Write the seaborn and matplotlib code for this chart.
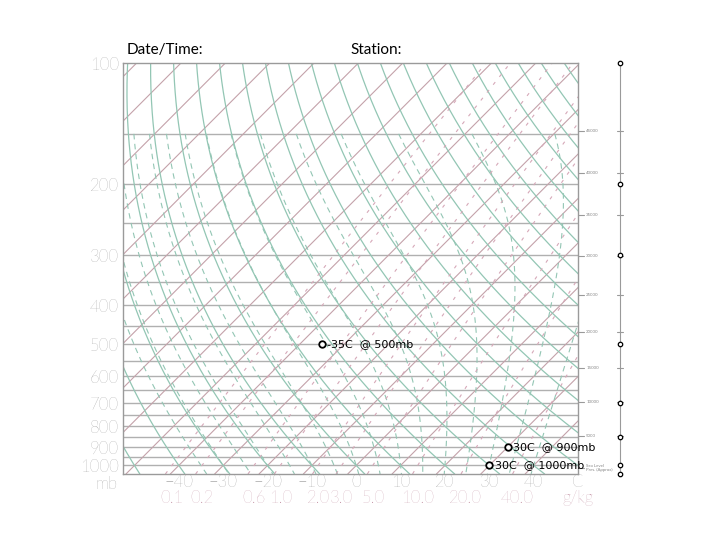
import numpy as np
import pandas as pd
import seaborn as sns
import matplotlib.pyplot as plt
import matplotlib.transforms as mtransforms

# chart values
isotherms = list(range(-140, 50, 10))          # deg C
dry_adiabats = list(range(-50, 180, 10))       # potential temp, deg C at 1000 mb
moist_adiabats = list(range(-35, 45, 5))       # wet-bulb potential temp, deg C
mixing_ratios = [0.1, 0.2, 0.6, 1.0, 2.0, 3.0, 5.0, 10.0, 20.0, 40.0]   # g/kg
mixing_labels = ["0.1", "0.2", "0.6", "1.0", "2.0", "3.0", "5.0", "10.0", "20.0", "40.0"]
isobars = list(range(150, 1050, 50))
p_ticks = [100, 200, 300, 400, 500, 600, 700, 800, 900, 1000]
t_ticks = [-40, -30, -20, -10, 0, 10, 20, 30, 40, 50]
t_labels = ["\u221240", "\u221230", "\u221220", "\u221210", "0", "10", "20", "30", "40", "C"]
alt_ft = [45000, 40000, 35000, 30000, 25000, 20000, 15000, 10000, 5000, 0]
alt_labels = ["45000", "40000", "35000", "30000", "25000", "20000", "15000",
              "10000", "5000", "Sea Level\nPres. (Approx)"]
staff_levels = [100, 200, 300, 500, 700, 850, 1000, 1050]
point_t = [-35, 30, 30]
point_p = [500, 900, 1000]
point_text = ["-35C  @ 500mb", "30C  @ 900mb", "30C  @ 1000mb"]

SKEW = 39.3
P_BOT, P_TOP = 1050, 100


def skew_x(t, p):
    return np.asarray(t) + SKEW * np.log(1000.0 / np.asarray(p))


def es(tc):
    return 6.112 * np.exp(17.67 * tc / (tc + 243.5))


def dewpoint(e):
    a = np.log(e / 6.112)
    return 243.5 * a / (17.67 - a)


def moist_dtdp(p, tk):
    e = es(tk - 273.15)
    rs = 0.622 * e / (p - e)
    num = 287.04 * tk + 2.501e6 * rs
    den = 1005.7 + 2.501e6 ** 2 * rs * 0.622 / (287.04 * tk * tk)
    return num / den / p


def moist_line(tw):
    out = {}
    for stop, step in [(150, -5.0), (1050, 5.0)]:
        p, tk = 1000.0, tw + 273.15
        out[p] = tk
        while (p > stop) if step < 0 else (p < stop):
            k1 = moist_dtdp(p, tk)
            k2 = moist_dtdp(p + step / 2, tk + step / 2 * k1)
            k3 = moist_dtdp(p + step / 2, tk + step / 2 * k2)
            k4 = moist_dtdp(p + step, tk + step * k3)
            tk = tk + step / 6 * (k1 + 2 * k2 + 2 * k3 + k4)
            p += step
            out[p] = tk
    ps = np.array(sorted(out))
    return ps, np.array([out[v] for v in ps]) - 273.15


def ft_to_p(ft):
    z = ft * 0.3048 / 1000.0
    if z <= 11:
        return 1013.25 * (1 - 6.5 * z / 288.15) ** 5.2559
    return 226.32 * np.exp(-(z - 11) / 6.3416)


# build line tables
pres = np.geomspace(P_BOT, P_TOP, 200)
rows = []
for t in isotherms:
    rows.append(pd.DataFrame({"x": skew_x(np.full_like(pres, t), pres), "p": pres, "id": f"t{t}"}))
iso_df = pd.concat(rows)

rows = []
for th in dry_adiabats:
    tc = (th + 273.15) * (pres / 1000.0) ** 0.2857 - 273.15
    rows.append(pd.DataFrame({"x": skew_x(tc, pres), "p": pres, "id": f"d{th}"}))
dry_df = pd.concat(rows)

rows = []
for tw in moist_adiabats:
    ps, tc = moist_line(tw)
    rows.append(pd.DataFrame({"x": skew_x(tc, ps), "p": ps, "id": f"m{tw}"}))
moist_df = pd.concat(rows)

rows = []
for w in mixing_ratios:
    e = w * pres / (622.0 + w)
    rows.append(pd.DataFrame({"x": skew_x(dewpoint(e), pres), "p": pres, "id": f"w{w}"}))
mix_df = pd.concat(rows)

sns.set_style("white")
plt.rcParams["font.family"] = ["Lato", "DejaVu Sans"]

fig = plt.figure(figsize=(7.2, 5.4), dpi=100)
ax = fig.add_axes([123 / 720, 1 - 474 / 540, 455 / 720, 411 / 540])
ax.set_yscale("log")

green = "#93c6b4"
pink = "#c4a2aa"

for p in isobars:
    ax.axhline(p, color="#b0b0b0", lw=1.0, zorder=1)

sns.lineplot(data=iso_df, x="x", y="p", units="id", estimator=None, sort=False,
             color=pink, lw=0.8, ax=ax)
sns.lineplot(data=dry_df, x="x", y="p", units="id", estimator=None, sort=False,
             color=green, lw=0.9, ax=ax)
sns.lineplot(data=moist_df, x="x", y="p", units="id", estimator=None, sort=False,
             color=green, lw=0.8, ls=(0, (5, 4)), ax=ax)
sns.lineplot(data=mix_df, x="x", y="p", units="id", estimator=None, sort=False,
             color="#d6a8b8", lw=0.8, ls=(0, (3, 6)), ax=ax)

ax.set_xlim((123 - 357) / 4.45, (578 - 357) / 4.45)
ax.set_ylim(P_BOT, P_TOP)

label_kw = dict(color="#7c7c7c", fontsize=12, fontweight="light")
ax.set_yticks(p_ticks)
ax.set_yticklabels([str(v) for v in p_ticks], **label_kw)
ax.yaxis.set_minor_locator(plt.NullLocator())
ax.set_xticks(t_ticks)
ax.set_xticklabels(t_labels, **label_kw)
ax.tick_params(length=0)
ax.tick_params(axis="x", pad=0)
ax.tick_params(axis="y", pad=3)
for s in ax.spines.values():
    s.set_color("#9a9a9a")
    s.set_linewidth(1.0)

ax.text(-0.012, -0.004, "mb", transform=ax.transAxes, ha="right", va="top", **label_kw)

# mixing ratio labels under the temperature row
mix_x = dewpoint(np.array(mixing_ratios) * 1000.0 / (622.0 + np.array(mixing_ratios)))
bt = mtransforms.blended_transform_factory(ax.transData, ax.transAxes)
mix_kw = dict(color="#bd8599", fontsize=12, fontweight="light", ha="center", va="top")
for x, lab in zip(mix_x, mixing_labels):
    ax.text(x, -0.040, lab, transform=bt, **mix_kw)
ax.text(50, -0.040, "g/kg", transform=bt, **mix_kw)

# altitude ticks on right spine
rt = mtransforms.blended_transform_factory(ax.transAxes, ax.transData)
for ft, lab in zip(alt_ft, alt_labels):
    p = ft_to_p(ft)
    ax.plot([1.0, 1.013], [p, p], color="#9a9a9a", lw=0.8, transform=rt, clip_on=False)
    ax.text(1.018, p, lab, transform=rt, fontsize=3.2, color="#888888",
            va="center", ha="left", linespacing=0.9)

# wind staff
sx = (620 - 123) / 455
ax.plot([sx, sx], [P_TOP, 1030], color="#9a9a9a", lw=0.8, transform=rt, clip_on=False)
for ft in alt_ft[:-1]:
    p = ft_to_p(ft)
    ax.plot([sx - 0.007, sx + 0.007], [p, p], color="#9a9a9a", lw=0.8,
            transform=rt, clip_on=False)
ax.plot([sx] * len(staff_levels), staff_levels, "o", ms=3.2, mfc="white", mec="black",
        mew=0.9, transform=rt, clip_on=False, ls="none")

# plotted points
pts = pd.DataFrame({"x": skew_x(point_t, point_p), "p": point_p})
sns.scatterplot(data=pts, x="x", y="p", s=22, facecolor="white", edgecolor="black",
                linewidth=1.3, zorder=5, ax=ax)
for x, p, lab in zip(pts["x"], pts["p"], point_text):
    ax.annotate(lab, (x, p), xytext=(4, 0), textcoords="offset points", va="center",
                ha="left", fontsize=8, color="black", family=["DejaVu Sans"], zorder=6)
ax.set_xlabel("")
ax.set_ylabel("")

fig.text(127 / 720, 1 - 50 / 540, "Date/Time:", fontsize=11, color="black", va="center")
fig.text(350 / 720, 1 - 50 / 540, "Station:", fontsize=11, color="black", va="center")

fig.savefig("out.png", dpi=100)
